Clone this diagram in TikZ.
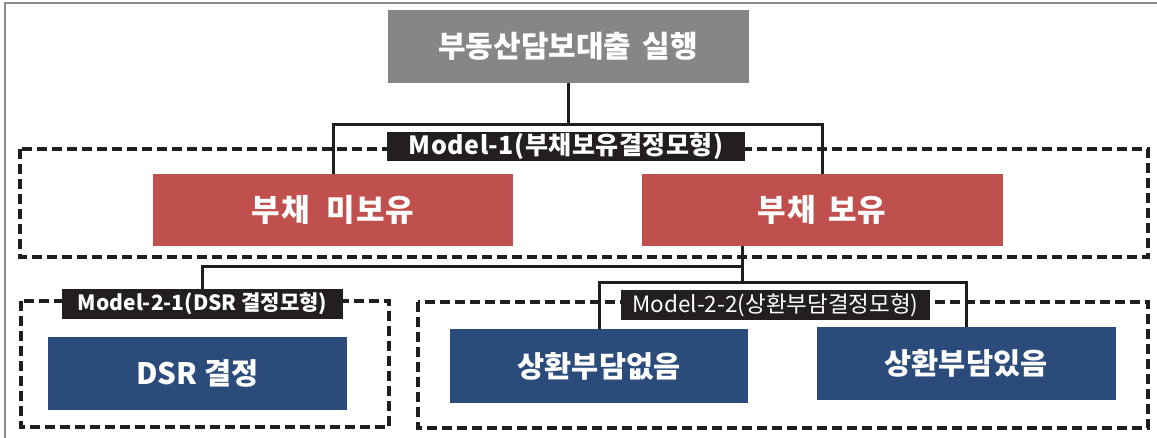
\documentclass[tikz,border=0pt]{standalone}
\usepackage{fontspec}
\setmainfont{Noto Sans CJK KR}
\usetikzlibrary{positioning}
\definecolor{topgray}{RGB}{134,134,137}
\definecolor{redbox}{RGB}{192,80,77}
\definecolor{bluebox}{RGB}{43,75,122}
\definecolor{labelbk}{RGB}{35,31,32}
\definecolor{linebk}{RGB}{30,30,30}
\definecolor{framegray}{RGB}{140,140,140}
\tikzset{
  box/.style={draw=none, text=white, inner sep=0pt, font=\fontsize{29.5}{32}\selectfont\bfseries},
  graybox/.style={box, fill=topgray},
  redbx/.style={box, fill=redbox},
  bluebx/.style={box, fill=bluebox},
  lbl/.style={fill=labelbk, text=white, inner sep=0pt},
  grp/.style={draw=linebk, line width=3.5pt, dash pattern=on 10pt off 5pt},
  conn/.style={draw=linebk, line width=3pt},
}
\begin{document}
\begin{tikzpicture}[x=1pt,y=-1pt]
\useasboundingbox (0,0) rectangle (1157,438);
\fill[white] (0,0) rectangle (1157,438);
% frame
\draw[framegray, line width=2.5pt] (5,438) -- (5,3) -- (1157,3);
% group boxes
\draw[grp] (20,149) rectangle (1148,257);
\draw[grp] (21,301) rectangle (389,427);
\draw[grp] (418,302) rectangle (1148,428);
% nodes
\node[graybox, minimum width=361pt, minimum height=73pt, font=\fontsize{30}{32}\selectfont\bfseries] (top) at (568,46.5) {부동산담보대출\hspace{4pt} 실행};
\node[redbx, minimum width=360pt, minimum height=72pt, font=\fontsize{31}{34}\selectfont\bfseries\addfontfeature{LetterSpace=4}] (redL) at (333,210) {부채\hspace{8pt} 미보유};
\node[redbx, minimum width=361pt, minimum height=72pt, font=\fontsize{31}{34}\selectfont\bfseries\addfontfeature{LetterSpace=4}] (redR) at (822,210) {부채\hspace{4pt} 보유};
\node[bluebx, minimum width=299pt, minimum height=73pt] (dsr) at (197.5,373.5) {DSR 결정};
\node[bluebx, minimum width=298pt, minimum height=74pt] (none) at (599,366) {상환부담없음};
\node[bluebx, minimum width=299pt, minimum height=73pt] (some) at (966,363.5) {상환부담있음};
% junctions
\coordinate (j1) at (568,125);
\coordinate (b1) at (742,246);
\coordinate (j3) at (742,267);
\coordinate (j4) at (742,283);
% connectors
\draw[conn] (top.south) -- (j1);
\draw[conn] (redL.north) |- (j1) -| (redR.north);
\draw[conn] (b1) -- (j4);
% labels
\node[lbl, minimum width=358pt, minimum height=29pt, font=\fontsize{25}{27}\selectfont\bfseries\addfontfeature{LetterSpace=2}] (lbl1) at (566,146.5) {Model-1(부채보유결정모형)};
\node[lbl, minimum width=281pt, minimum height=30pt, font=\fontsize{21}{23}\selectfont\bfseries] (lbl21) at (202.5,304) {Model-2-1(DSR 결정모형)};
\node[lbl, minimum width=309pt, minimum height=30pt, font=\fontsize{22.5}{24}\selectfont] (lbl22) at (775.5,305) {Model-2-2(상환부담결정모형)};
\draw[conn] (lbl21.north) |- (j3);
\draw[conn] (none.north) |- (j4) -| (some.north);
\end{tikzpicture}
\end{document}
